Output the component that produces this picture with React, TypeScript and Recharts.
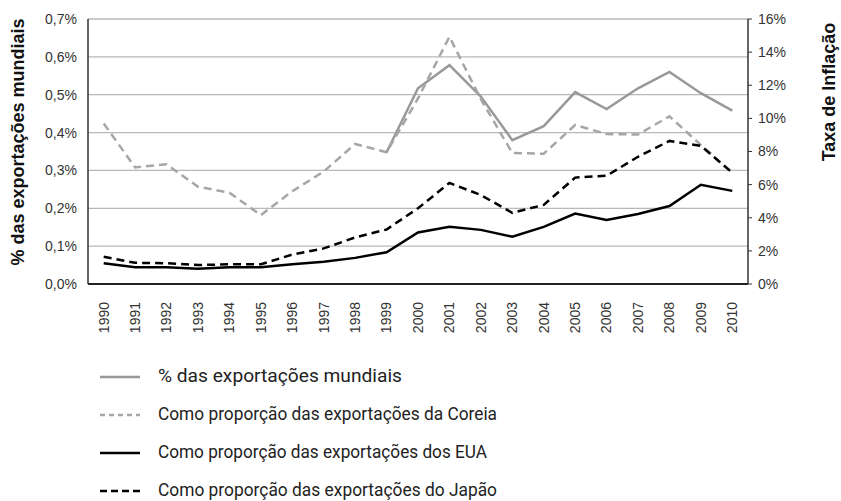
import React from 'react';
import { LineChart, Line, XAxis, YAxis, CartesianGrid } from 'recharts';

const years = [
  '1990', '1991', '1992', '1993', '1994', '1995', '1996', '1997', '1998', '1999', '2000',
  '2001', '2002', '2003', '2004', '2005', '2006', '2007', '2008', '2009', '2010',
];

// % das exportações mundiais (só a partir de 1999)
const worldShare = [
  null, null, null, null, null, null, null, null, null, 0.348, 0.517,
  0.578, 0.495, 0.38, 0.417, 0.507, 0.462, 0.517, 0.56, 0.504, 0.458,
];
const koreaShare = [
  0.424, 0.308, 0.316, 0.257, 0.241, 0.182, 0.245, 0.297, 0.37, 0.348, 0.49,
  0.653, 0.488, 0.346, 0.344, 0.42, 0.396, 0.395, 0.443, 0.367, 0.294,
];
const usShare = [
  0.055, 0.044, 0.044, 0.04, 0.044, 0.044, 0.052, 0.059, 0.069, 0.084, 0.136,
  0.151, 0.143, 0.125, 0.151, 0.186, 0.169, 0.185, 0.206, 0.262, 0.246,
];
const japanShare = [
  0.072, 0.056, 0.055, 0.05, 0.052, 0.052, 0.078, 0.094, 0.123, 0.144, 0.2,
  0.267, 0.235, 0.188, 0.209, 0.281, 0.286, 0.336, 0.378, 0.365, 0.294,
];

const leftTicks = [0, 0.1, 0.2, 0.3, 0.4, 0.5, 0.6, 0.7];
const rightTicks = [0, 2, 4, 6, 8, 10, 12, 14, 16];

const legendItems = [
  { label: '% das exportações mundiais', color: '#999999', dash: undefined, width: 244 },
  { label: 'Como proporção das exportações da Coreia', color: '#a6a6a6', dash: '5 4', width: 339 },
  { label: 'Como proporção das exportações dos EUA', color: '#000000', dash: undefined, width: 329 },
  { label: 'Como proporção das exportações do Japão', color: '#000000', dash: '7 4', width: 339 },
];

const data = years.map((year, i) => ({
  year,
  world: worldShare[i],
  korea: koreaShare[i],
  us: usShare[i],
  japan: japanShare[i],
}));

const tickFont = 'Liberation Sans, Arial, sans-serif';

const YearTick = (props: any) => {
  const { x, y, payload } = props;
  return (
    <g transform={`translate(${x},${y + 10})`}>
      <text
        x={0}
        y={0}
        dy="0.35em"
        transform="rotate(-90)"
        textAnchor="end"
        fontSize={14}
        fontFamily={tickFont}
        fill="#333"
      >
        {payload.value}
      </text>
    </g>
  );
};

const App: React.FC = () => {
  return (
    <div style={{ position: 'absolute', left: 0, top: 0, width: 841, height: 501, background: '#fff' }}>
      <LineChart
        width={841}
        height={345}
        data={data}
        margin={{ top: 19, right: 50, left: 30, bottom: 0 }}
      >
        <CartesianGrid yAxisId="left" vertical={false} stroke="#b8b8b8" strokeWidth={1.3} />
        <XAxis
          dataKey="year"
          interval={0}
          height={61}
          padding={{ left: 15.7, right: 15.7 }}
          tickLine={false}
          axisLine={{ stroke: '#222', strokeWidth: 2 }}
          tick={<YearTick />}
        />
        <YAxis
          yAxisId="left"
          width={58}
          domain={[0, 0.7]}
          ticks={leftTicks}
          tickLine={false}
          tickSize={0}
          tickMargin={11}
          axisLine={{ stroke: '#333', strokeWidth: 1.5 }}
          tick={{ fontSize: 14, fontFamily: tickFont, fill: '#333' }}
          tickFormatter={(v: number) => v.toFixed(1).replace('.', ',') + '%'}
        />
        <YAxis
          yAxisId="right"
          orientation="right"
          width={43}
          domain={[0, 16]}
          ticks={rightTicks}
          allowDataOverflow
          tickSize={4}
          tickMargin={6}
          tickLine={{ stroke: '#333' }}
          axisLine={{ stroke: '#333', strokeWidth: 1.5 }}
          tick={{ fontSize: 14, fontFamily: tickFont, fill: '#333' }}
          tickFormatter={(v: number) => `${v}%`}
        />
        <Line yAxisId="left" type="linear" dataKey="world" stroke="#999999" strokeWidth={2.5} dot={false} isAnimationActive={false} />
        <Line yAxisId="left" type="linear" dataKey="korea" stroke="#a6a6a6" strokeWidth={2.5} strokeDasharray="8 5" dot={false} isAnimationActive={false} />
        <Line yAxisId="left" type="linear" dataKey="us" stroke="#000" strokeWidth={2.5} dot={false} isAnimationActive={false} />
        <Line yAxisId="left" type="linear" dataKey="japan" stroke="#000" strokeWidth={2.5} strokeDasharray="8 5" dot={false} isAnimationActive={false} />
        {/* eixo da inflação: série oculta só para o eixo direito aparecer */}
        <Line yAxisId="right" dataKey="us" hide isAnimationActive={false} />
      </LineChart>
      <svg width={841} height={501} style={{ position: 'absolute', left: 0, top: 0, pointerEvents: 'none' }}>
        <text
          x={18}
          y={142}
          dy="0.35em"
          transform="rotate(-90, 18, 142)"
          textAnchor="middle"
          fontSize={18}
          fontWeight="bold"
          fontFamily={tickFont}
          fill="#111"
        >
          % das exportações mundiais
        </text>
        <text
          x={829}
          y={92}
          dy="0.35em"
          transform="rotate(-90, 829, 92)"
          textAnchor="middle"
          fontSize={18}
          fontWeight="bold"
          fontFamily={tickFont}
          fill="#111"
        >
          Taxa de Inflação
        </text>
        {legendItems.map((item, i) => {
          const y = 377 + i * 38;
          return (
            <g key={item.label}>
              <line x1={100} x2={140} y1={y} y2={y} stroke={item.color} strokeWidth={2.5} strokeDasharray={item.dash} />
              <text
                x={158}
                y={y + 5}
                fontSize={19}
                fontFamily="Roboto, sans-serif"
                fill="#222"
                textLength={item.width}
                lengthAdjust="spacingAndGlyphs"
              >
                {item.label}
              </text>
            </g>
          );
        })}
      </svg>
    </div>
  );
};

export default App;
